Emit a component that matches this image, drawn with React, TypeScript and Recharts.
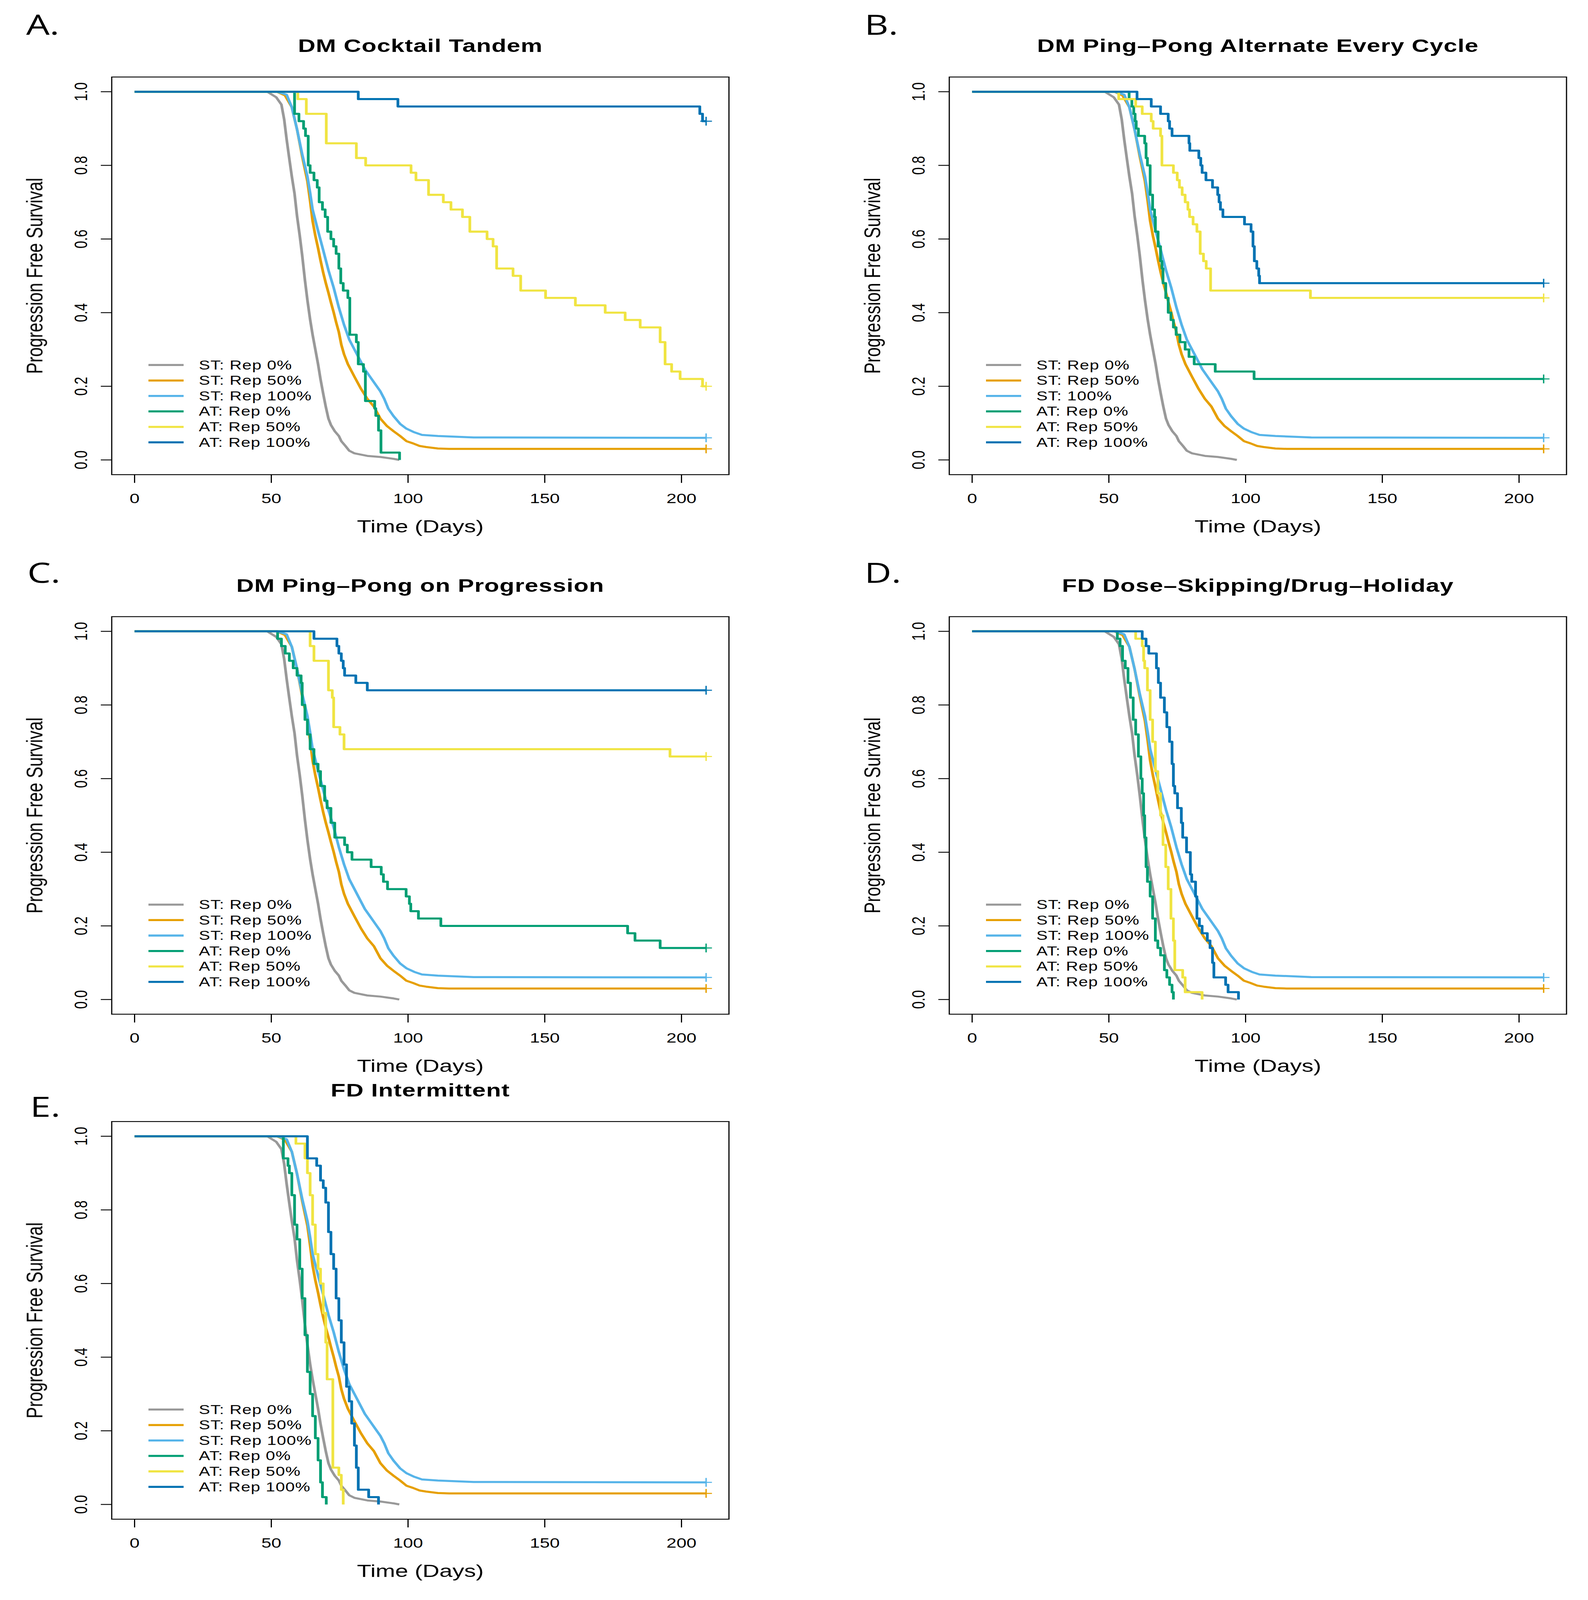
import React from 'react';
import { LineChart, Line, XAxis, YAxis, ReferenceArea, Legend } from 'recharts';

// ---------- data (time in days, progression-free survival) ----------
const ST_REP0 = [[0,1],[48.5,1],[51.8,0.985],[53.7,0.965],[54.7,0.925],[55.6,0.871],[56.6,0.817],[57.5,0.77],[58.5,0.723],[59.4,0.663],[60.4,0.609],[61.3,0.555],[62.3,0.488],[63.2,0.434],[64.2,0.381],[65.1,0.34],[66.1,0.3],[67.1,0.26],[68.0,0.219],[69.0,0.179],[69.9,0.145],[70.9,0.112],[71.8,0.095],[73.2,0.078],[74.7,0.065],[75.6,0.051],[77.1,0.038],[78.5,0.025],[80.4,0.018],[85.1,0.011],[89.9,0.008],[94.7,0.003],[96.8,0]];
const ST_REP50 = [[0,1],[52,1],[55,0.99],[57.5,0.958],[59.4,0.898],[61.3,0.824],[63.2,0.757],[64.2,0.703],[65.1,0.649],[66.1,0.609],[67.1,0.575],[68.0,0.542],[69.0,0.508],[69.9,0.481],[70.9,0.454],[71.8,0.428],[72.8,0.401],[73.7,0.374],[74.7,0.347],[75.6,0.313],[76.6,0.287],[78.0,0.26],[80.4,0.226],[82.8,0.193],[85.1,0.166],[87.5,0.145],[89.9,0.112],[92.3,0.092],[94.7,0.078],[97.1,0.065],[99.4,0.051],[101.8,0.045],[104.2,0.038],[106.6,0.035],[110.9,0.031],[115,0.03],[209,0.03]];
const ST_REP100 = [[0,1],[52,1],[55.6,0.992],[57.5,0.958],[59.4,0.898],[61.3,0.83],[63.2,0.77],[64.2,0.725],[65.1,0.68],[67.1,0.622],[69.0,0.569],[70.9,0.515],[72.8,0.468],[74.7,0.414],[76.6,0.367],[78.5,0.327],[80.4,0.3],[82.3,0.273],[84.2,0.246],[86.1,0.226],[88.0,0.206],[89.9,0.186],[91.3,0.166],[92.8,0.139],[94.7,0.119],[97.1,0.098],[99.4,0.085],[102.3,0.075],[105.1,0.068],[110.9,0.065],[124,0.061],[209,0.06]];

const A_AT0 = [[0,1],[58.5,0.94],[60.1,0.92],[61.8,0.9],[62.5,0.88],[63.5,0.8],[64.2,0.78],[65.6,0.76],[66.8,0.74],[67.5,0.7],[68.7,0.68],[69.7,0.66],[70.6,0.62],[71.8,0.6],[72.8,0.58],[73.7,0.56],[74.7,0.52],[75.4,0.48],[76.3,0.46],[78.0,0.44],[78.7,0.34],[81.1,0.32],[81.8,0.26],[83.7,0.24],[84.4,0.16],[87.8,0.14],[88.2,0.12],[89.2,0.08],[90.1,0.02],[96.9,0]];
const A_AT50 = [[0,1],[59.7,0.98],[62.8,0.94],[70.1,0.86],[81.1,0.82],[84.5,0.8],[101.1,0.78],[102.9,0.76],[107.5,0.72],[112.9,0.7],[115.7,0.68],[119.9,0.66],[122.6,0.62],[128.9,0.6],[131.1,0.58],[132.4,0.52],[138.4,0.5],[141.2,0.46],[150.3,0.44],[161.2,0.42],[172.1,0.4],[179.4,0.38],[184.9,0.36],[192.2,0.32],[194,0.26],[196.4,0.24],[199.5,0.22],[207.7,0.2],[209,0.2]];
const A_AT100 = [[0,1],[81.8,0.98],[96.3,0.96],[206.7,0.94],[207.7,0.92],[209,0.92]];

const B_AT0 = [[0,1],[57.4,0.98],[58.4,0.96],[59.1,0.94],[59.6,0.92],[60.0,0.9],[60.8,0.88],[63.1,0.86],[63.6,0.82],[64.1,0.8],[65.1,0.72],[66.0,0.68],[66.7,0.66],[67.0,0.62],[68.0,0.58],[68.9,0.54],[69.4,0.52],[69.8,0.48],[70.8,0.44],[71.7,0.4],[72.7,0.38],[73.6,0.36],[74.6,0.34],[76.0,0.32],[77.9,0.3],[79.3,0.28],[81.2,0.26],[88.9,0.24],[103.1,0.22],[209,0.22]];
const B_AT50 = [[0,1],[53.6,0.98],[59.8,0.96],[62.2,0.94],[65.5,0.92],[66.2,0.9],[68.9,0.88],[69.4,0.8],[73.6,0.78],[75.0,0.76],[75.8,0.74],[76.8,0.72],[77.9,0.7],[78.9,0.68],[79.5,0.66],[80.8,0.64],[82.2,0.62],[83.4,0.56],[84.6,0.54],[85.6,0.52],[87.2,0.46],[123.7,0.44],[209,0.44]];
const B_AT100 = [[0,1],[60.3,0.98],[65.5,0.96],[68.9,0.94],[71.7,0.92],[72.2,0.9],[73.1,0.88],[79.3,0.86],[79.6,0.84],[82.9,0.82],[83.6,0.8],[84.1,0.78],[85.5,0.76],[87.9,0.74],[89.8,0.72],[90.3,0.7],[90.8,0.68],[91.7,0.66],[99.6,0.64],[102.0,0.62],[102.7,0.58],[103.2,0.54],[104.1,0.52],[104.8,0.5],[105.1,0.48],[209,0.48]];

const C_AT0 = [[0,1],[52.3,0.98],[53.7,0.96],[55.1,0.94],[56.6,0.92],[58.0,0.9],[59.4,0.88],[60.9,0.86],[61.3,0.8],[62.3,0.76],[63.2,0.72],[64.2,0.68],[65.6,0.64],[67.1,0.62],[68.0,0.58],[69.5,0.54],[70.4,0.52],[71.8,0.48],[73.2,0.44],[76.8,0.42],[77.8,0.4],[79.5,0.38],[86.5,0.36],[90.2,0.34],[91.0,0.32],[92.5,0.3],[99.3,0.28],[100.5,0.26],[101.0,0.24],[103.8,0.22],[112,0.2],[180.3,0.18],[183,0.16],[192.2,0.14],[209,0.14]];
const C_AT50 = [[0,1],[64.2,0.96],[65.6,0.92],[70.9,0.84],[72.3,0.82],[72.8,0.74],[75.1,0.72],[76.6,0.68],[195.8,0.66],[209,0.66]];
const C_AT100 = [[0,1],[65.6,0.98],[74.0,0.96],[74.7,0.94],[75.6,0.92],[76.3,0.9],[76.8,0.88],[80.9,0.86],[85.1,0.84],[209,0.84]];

const D_AT0 = [[0,1],[53.1,0.98],[54.1,0.96],[55.0,0.92],[56.0,0.9],[57.0,0.86],[57.9,0.82],[58.9,0.76],[59.8,0.72],[60.8,0.66],[61.7,0.6],[62.2,0.56],[62.7,0.5],[63.1,0.44],[63.6,0.36],[64.1,0.32],[65.1,0.28],[66.0,0.22],[67.0,0.16],[67.9,0.14],[68.9,0.12],[70.3,0.08],[71.2,0.06],[72.2,0.04],[73.1,0.02],[73.6,0]];
const D_AT50 = [[0,1],[59.8,0.98],[62.2,0.96],[62.7,0.92],[63.1,0.9],[64.1,0.84],[65.1,0.76],[66.0,0.7],[67.0,0.62],[67.9,0.56],[68.9,0.5],[69.8,0.42],[70.8,0.36],[71.7,0.3],[72.7,0.22],[73.6,0.16],[74.1,0.08],[77.0,0.06],[77.9,0.02],[84.1,0]];
const D_AT100 = [[0,1],[62.2,0.98],[63.6,0.96],[64.6,0.94],[67.4,0.9],[68.1,0.86],[68.9,0.82],[70.3,0.78],[71.2,0.74],[72.2,0.7],[73.1,0.64],[73.6,0.58],[74.1,0.56],[75.1,0.52],[76.5,0.48],[77.0,0.44],[78.4,0.4],[79.8,0.34],[80.3,0.32],[81.7,0.28],[82.2,0.22],[83.1,0.2],[84.1,0.18],[86.0,0.16],[87.0,0.14],[87.9,0.1],[88.4,0.06],[92.7,0.04],[93.6,0.02],[97.4,0]];

const E_AT0 = [[0,1],[54.4,0.94],[56.1,0.92],[56.6,0.9],[57.5,0.84],[58.5,0.76],[59.4,0.72],[60.4,0.64],[61.3,0.56],[62.3,0.46],[63.2,0.36],[64.2,0.3],[65.1,0.24],[66.1,0.18],[67.1,0.12],[68.0,0.06],[68.7,0.02],[70.1,0]];
const E_AT50 = [[0,1],[59.0,0.98],[62.3,0.94],[63.2,0.9],[64.2,0.84],[65.1,0.76],[66.1,0.68],[67.1,0.64],[68.0,0.6],[69.0,0.52],[69.9,0.44],[70.4,0.34],[72.5,0.1],[74.7,0.08],[75.6,0.04],[76.3,0]];
const E_AT100 = [[0,1],[63.2,0.94],[66.6,0.92],[68.0,0.88],[69.0,0.86],[69.9,0.82],[70.9,0.74],[71.8,0.68],[72.8,0.64],[73.7,0.56],[74.7,0.5],[75.6,0.44],[76.6,0.38],[77.5,0.32],[78.5,0.28],[79.4,0.22],[80.4,0.16],[81.1,0.1],[81.8,0.04],[85.6,0.02],[89.2,0]];

const X_TICKS = [0, 50, 100, 150, 200];
const Y_TICKS = [0, 0.2, 0.4, 0.6, 0.8, 1.0];
const LABELS = ['ST: Rep 0%', 'ST: Rep 50%', 'ST: Rep 100%', 'AT: Rep 0%', 'AT: Rep 50%', 'AT: Rep 100%'];
const LABELS_B = ['ST: Rep 0%', 'ST: Rep 50%', 'ST: 100%', 'AT: Rep 0%', 'AT: Rep 50%', 'AT: Rep 100%'];
const TITLES = ['DM Cocktail Tandem', 'DM Ping\u2013Pong Alternate Every Cycle', 'DM Ping\u2013Pong on Progression', 'FD Dose\u2013Skipping/Drug\u2013Holiday', 'FD Intermittent'];
const LETTERS = ['A.', 'B.', 'C.', 'D.', 'E.'];
const COLORS = ['#999999', '#E69F00', '#56B4E9', '#009E73', '#F0E442', '#0072B2'];

// ---------- layout ----------
// The browser viewport is only 4096 px tall, so the 4065x5444 figure is
// squeezed vertically to fit it completely.
const PAGE_W = 4065, PAGE_H = 5444, VIEW_H = 4096;
const FIT = VIEW_H / PAGE_H;
const FONT = '"Liberation Sans", Arial, Helvetica, sans-serif';
const W = 1920, H = 1903, PL = 300, PT = 300, PW = 1580, PH = 1353;
const XDOM = [-8.36, 217.36];
const YDOM = [-0.04, 1.04];

const toPts = (arr: number[][]) => arr.map(([t, s]) => ({ t, s }));

const XTick = (props: any) => (
  <text x={props.x} y={props.y + 69} textAnchor="middle" fontSize={46} fontFamily={FONT} fill="#000">
    {props.payload.value}
  </text>
);
const YTick = (props: any) => {
  const bx = props.x - 35;
  return (
    <text x={bx} y={props.y} transform={`rotate(-90 ${bx} ${props.y})`} textAnchor="middle" fontSize={46} fontFamily={FONT} fill="#000">
      {Number(props.payload.value).toFixed(1)}
    </text>
  );
};

const censorDot = (n: number, color: string, show: boolean) => (p: any) => {
  if (!show || p.index !== n - 1) return <g key={`d${p.index}`} />;
  return (
    <g key={`d${p.index}`}>
      <line x1={p.cx - 15} x2={p.cx + 15} y1={p.cy} y2={p.cy} stroke={color} strokeWidth={3.5} />
      <line x1={p.cx} x2={p.cx} y1={p.cy - 15} y2={p.cy + 15} stroke={color} strokeWidth={3.5} />
    </g>
  );
};

type PanelProps = {
  box: number[];
  letterPos: number[];
  letter: string;
  title: string;
  labels: string[];
  at: number[][][];
};

function Panel({ box, letterPos, letter, title, labels, at }: PanelProps) {
  const raw = [ST_REP0, ST_REP50, ST_REP100, at[0], at[1], at[2]];
  const series = raw.map((d, i) => {
    const last = d[d.length - 1];
    return {
      data: toPts(d),
      color: COLORS[i],
      label: labels[i],
      step: i >= 3,
      censor: last[0] >= 209 && last[1] > 0,
    };
  });
  const ox = box[0] - PL;
  const oy = box[1] - PT;
  const legendContent = () => (
    <svg width={800} height={340} style={{ display: 'block' }}>
      {series.map((s, i) => {
        const cy = 30 + i * 52.6;
        return (
          <g key={i}>
            <line x1={0} x2={90} y1={cy} y2={cy} stroke={s.color} strokeWidth={7} />
            <text x={129} y={cy + 15} fontSize={43} letterSpacing={1.2} fontFamily={FONT} fill="#000">{s.label}</text>
          </g>
        );
      })}
    </svg>
  );
  return (
    <div style={{ position: 'absolute', left: ox, top: oy, width: W, height: H }}>
      <LineChart width={W} height={H} margin={{ top: PT, right: W - PL - PW, bottom: 100, left: 100 }}>
        <XAxis
          type="number"
          dataKey="t"
          domain={XDOM}
          allowDataOverflow
          ticks={X_TICKS}
          interval={0}
          axisLine={false}
          tickSize={28}
          tickMargin={0}
          tickLine={{ stroke: '#000', strokeWidth: 3 }}
          tick={XTick}
          height={150}
        />
        <YAxis
          type="number"
          dataKey="s"
          domain={YDOM}
          allowDataOverflow
          ticks={Y_TICKS}
          interval={0}
          axisLine={false}
          tickSize={28}
          tickMargin={0}
          tickLine={{ stroke: '#000', strokeWidth: 3 }}
          tick={YTick}
          width={200}
        />
        <ReferenceArea x1={XDOM[0]} x2={XDOM[1]} y1={YDOM[0]} y2={YDOM[1]} fill="none" fillOpacity={0} stroke="#000" strokeWidth={3} strokeOpacity={1} />
        {series.map((s, i) => (
          <Line
            key={i}
            data={s.data}
            dataKey="s"
            name={s.label}
            type={s.step ? 'stepAfter' : 'linear'}
            stroke={s.color}
            strokeWidth={7}
            strokeLinejoin="round"
            dot={censorDot(s.data.length, s.color, s.censor)}
            activeDot={false}
            isAnimationActive={false}
          />
        ))}
        <Legend
          layout="vertical"
          align="center"
          verticalAlign="middle"
          content={legendContent}
          wrapperStyle={{ left: PL + 94, top: PT + 980 - 30, width: 800, height: 340 }}
        />
      </LineChart>
      <svg width={W} height={H} style={{ position: 'absolute', left: 0, top: 0, pointerEvents: 'none' }}>
        <text x={letterPos[0] - ox} y={letterPos[1] - oy} fontSize={95} fontFamily='"Open Sans", "Noto Sans", sans-serif' fill="#000">{letter}</text>
        <text x={PL + PW / 2} y={PT - 85} textAnchor="middle" fontSize={62} letterSpacing={1.2} fontWeight="bold" fontFamily={FONT} fill="#000">{title}</text>
        <text x={PL + PW / 2} y={PT + PH + 196} textAnchor="middle" fontSize={60} fontFamily={FONT} fill="#000">Time (Days)</text>
        <text
          x={PL - 177}
          y={PT + PH / 2}
          transform={`rotate(-90 ${PL - 177} ${PT + PH / 2})`}
          textAnchor="middle"
          fontSize={58}
          fontFamily={FONT}
          fill="#000"
        >
          Progression Free Survival
        </text>
      </svg>
    </div>
  );
}

const PANELS = [
  { box: [286, 262], letterPos: [67, 118], at: [A_AT0, A_AT50, A_AT100], labels: LABELS },
  { box: [2430, 262], letterPos: [2213, 118], at: [B_AT0, B_AT50, B_AT100], labels: LABELS_B },
  { box: [286, 2098], letterPos: [70, 1983], at: [C_AT0, C_AT50, C_AT100], labels: LABELS },
  { box: [2430, 2098], letterPos: [2213, 1983], at: [D_AT0, D_AT50, D_AT100], labels: LABELS },
  { box: [286, 3816], letterPos: [77, 3800], at: [E_AT0, E_AT50, E_AT100], labels: LABELS },
];

export default function App() {
  return (
    <div style={{ position: 'absolute', left: 0, top: 0, width: PAGE_W, height: VIEW_H, overflow: 'hidden', background: '#fff' }}>
      <div
        style={{
          position: 'absolute',
          left: 0,
          top: 0,
          width: PAGE_W,
          height: PAGE_H,
          background: '#fff',
          transform: `scaleY(${FIT})`,
          transformOrigin: '0 0',
        }}
      >
        {PANELS.map((p, i) => (
          <Panel key={i} box={p.box} letterPos={p.letterPos} letter={LETTERS[i]} title={TITLES[i]} labels={p.labels} at={p.at} />
        ))}
      </div>
    </div>
  );
}
